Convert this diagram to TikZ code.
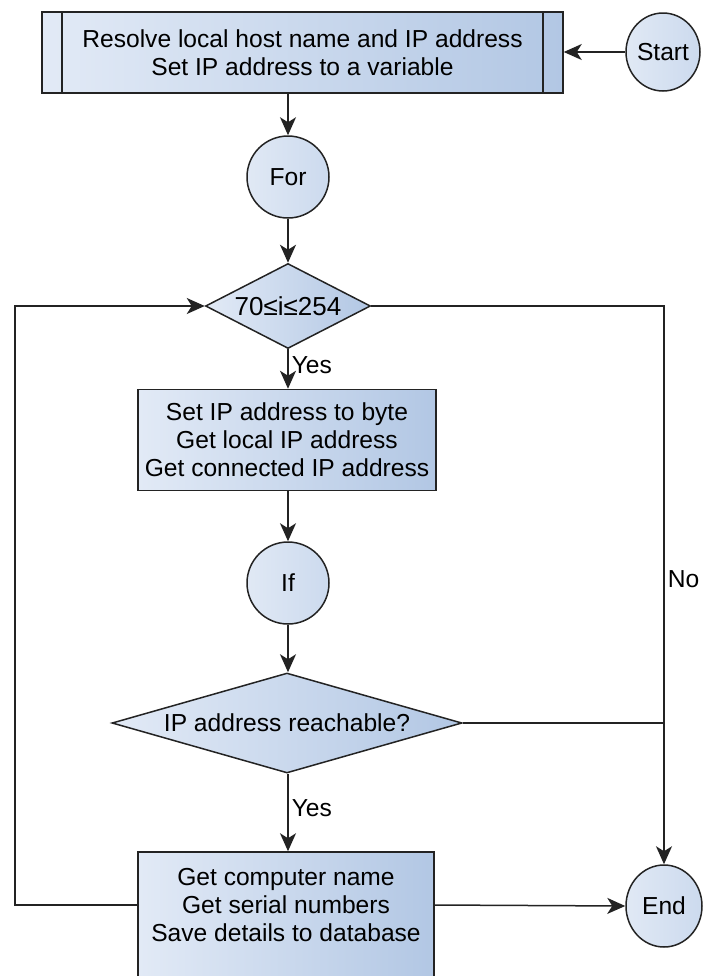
\documentclass[tikz,border=0pt]{standalone}
\usepackage{fontspec}
\setmainfont{Liberation Sans}
\usetikzlibrary{arrows.meta,shapes.geometric}
\definecolor{flowlight}{RGB}{226,234,246}
\definecolor{flowdark}{RGB}{178,199,228}
\definecolor{flowround}{RGB}{204,218,238}
\definecolor{flowink}{RGB}{35,35,35}

\begin{document}
\begin{tikzpicture}[
			x=0.5pt,y=-0.5pt,
			procbox/.style={
				draw=flowink,
				line width=0.75pt,
				left color=flowlight,
				right color=flowdark,
				align=center,
				inner sep=0pt,
				font=\fontsize{12.3}{14}\selectfont
			},
			predefbox/.style={
				procbox,
				path picture={
					\draw[flowink,line width=0.75pt]
					([xshift=10pt]path picture bounding box.north west) --
					([xshift=10pt]path picture bounding box.south west);
					\draw[flowink,line width=0.75pt]
					([xshift=-10pt]path picture bounding box.north east) --
					([xshift=-10pt]path picture bounding box.south east);
				}
			},
			decision/.style={
				diamond,
				draw=flowink,
				line width=0.75pt,
				left color=flowlight,
				right color=flowdark,
				inner sep=0pt
			},
			terminal/.style={
				ellipse,
				draw=flowink,
				line width=0.75pt,
				left color=flowround!60!white,
				right color=flowround,
				inner sep=0pt,
				font=\fontsize{12.3}{14}\selectfont
			},
			flowarrow/.style={
				-{Stealth[length=9pt,width=8pt,inset=2.5pt]},
				draw=flowink,
				line width=0.75pt
			},
			joinline/.style={
				draw=flowink,
				line width=0.75pt
			},
			flowlabel/.style={
				font=\fontsize{12.3}{14}\selectfont,
				inner sep=1.5pt
			}
			]
			
			\useasboundingbox (0,0) rectangle (704,976);
			\clip (0,0) rectangle (704,976);
			
			% Top line
			\node[predefbox,minimum width=260.5pt,minimum height=40.5pt] (init) at (302.5,52.5) {
				Resolve local host name and IP address\\
				Set IP address to a variable
			};
			
			\node[terminal,minimum width=37pt,minimum height=39pt] (start) at (663,52) {Start};
			
			% Main column
			\node[terminal,minimum size=41pt] (for) at (288,177) {For};
			
			\node[decision,minimum width=82.5pt,minimum height=42.5pt,
				label={[font=\fontsize{13}{14}\selectfont]center:70≤i≤254}] (range) at (288,306) {};
			
			\node[procbox,minimum width=149pt,minimum height=50.5pt] (setup) at (287,440) {
				Set IP address to byte\\
				Get local IP address\\
				Get connected IP address
			};
			
			\node[terminal,minimum size=41pt] (if) at (288,583) {If};
			
			\node[decision,minimum width=175pt,minimum height=50pt,
				label={[font=\fontsize{12.3}{14}\selectfont]center:IP address reachable?}] (check) at (287,723) {};
			
			\node[procbox,minimum width=148pt,minimum height=69pt] (save) at (286,921) {};
			\node[font=\fontsize{12.3}{14}\selectfont,align=center] (savetext) at (286,905) {
				Get computer name\\
				Get serial numbers\\
				Save details to database
			};
			
			\node[terminal,minimum width=38pt,minimum height=41pt] (end) at (664,906) {End};
			
			\coordinate (loop) at (15,306);
			
			% Main sequence
			\draw[flowarrow]
			(start.west) --
			(start.west -| init.east);
			
			\draw[flowarrow]
			(init.south -| for.north) --
			(for.north);
			
			\draw[flowarrow]
			(for.south) --
			(range.north);
			
			\draw[flowarrow]
			(range.south) --
			node[flowlabel,right,pos=0.4]{Yes}
			(range.south |- setup.north);
			
			\draw[flowarrow]
			(if.north |- setup.south) --
			(if.north);
			
			\draw[flowarrow]
			(if.south) --
			(if.south |- check.north);
			
			\draw[flowarrow]
			(if.south |- check.south) --
			node[flowlabel,right,pos=0.44]{Yes}
			(if.south |- save.north);
			
			\draw[flowarrow]
			(savetext -| save.east) --
			(end.west);
			
			% Exit branch
			\draw[flowarrow]
			(range.east) -|
			node[flowlabel,right,pos=0.745]{No}
			(end.north);
			
			\draw[joinline]
			(check.east) --
			(check.east -| end.north);
			
			% Loop back
			\draw[flowarrow]
			(savetext -| save.west) -|
			(loop) --
			(range.west);
			
		\end{tikzpicture}
\end{document}
